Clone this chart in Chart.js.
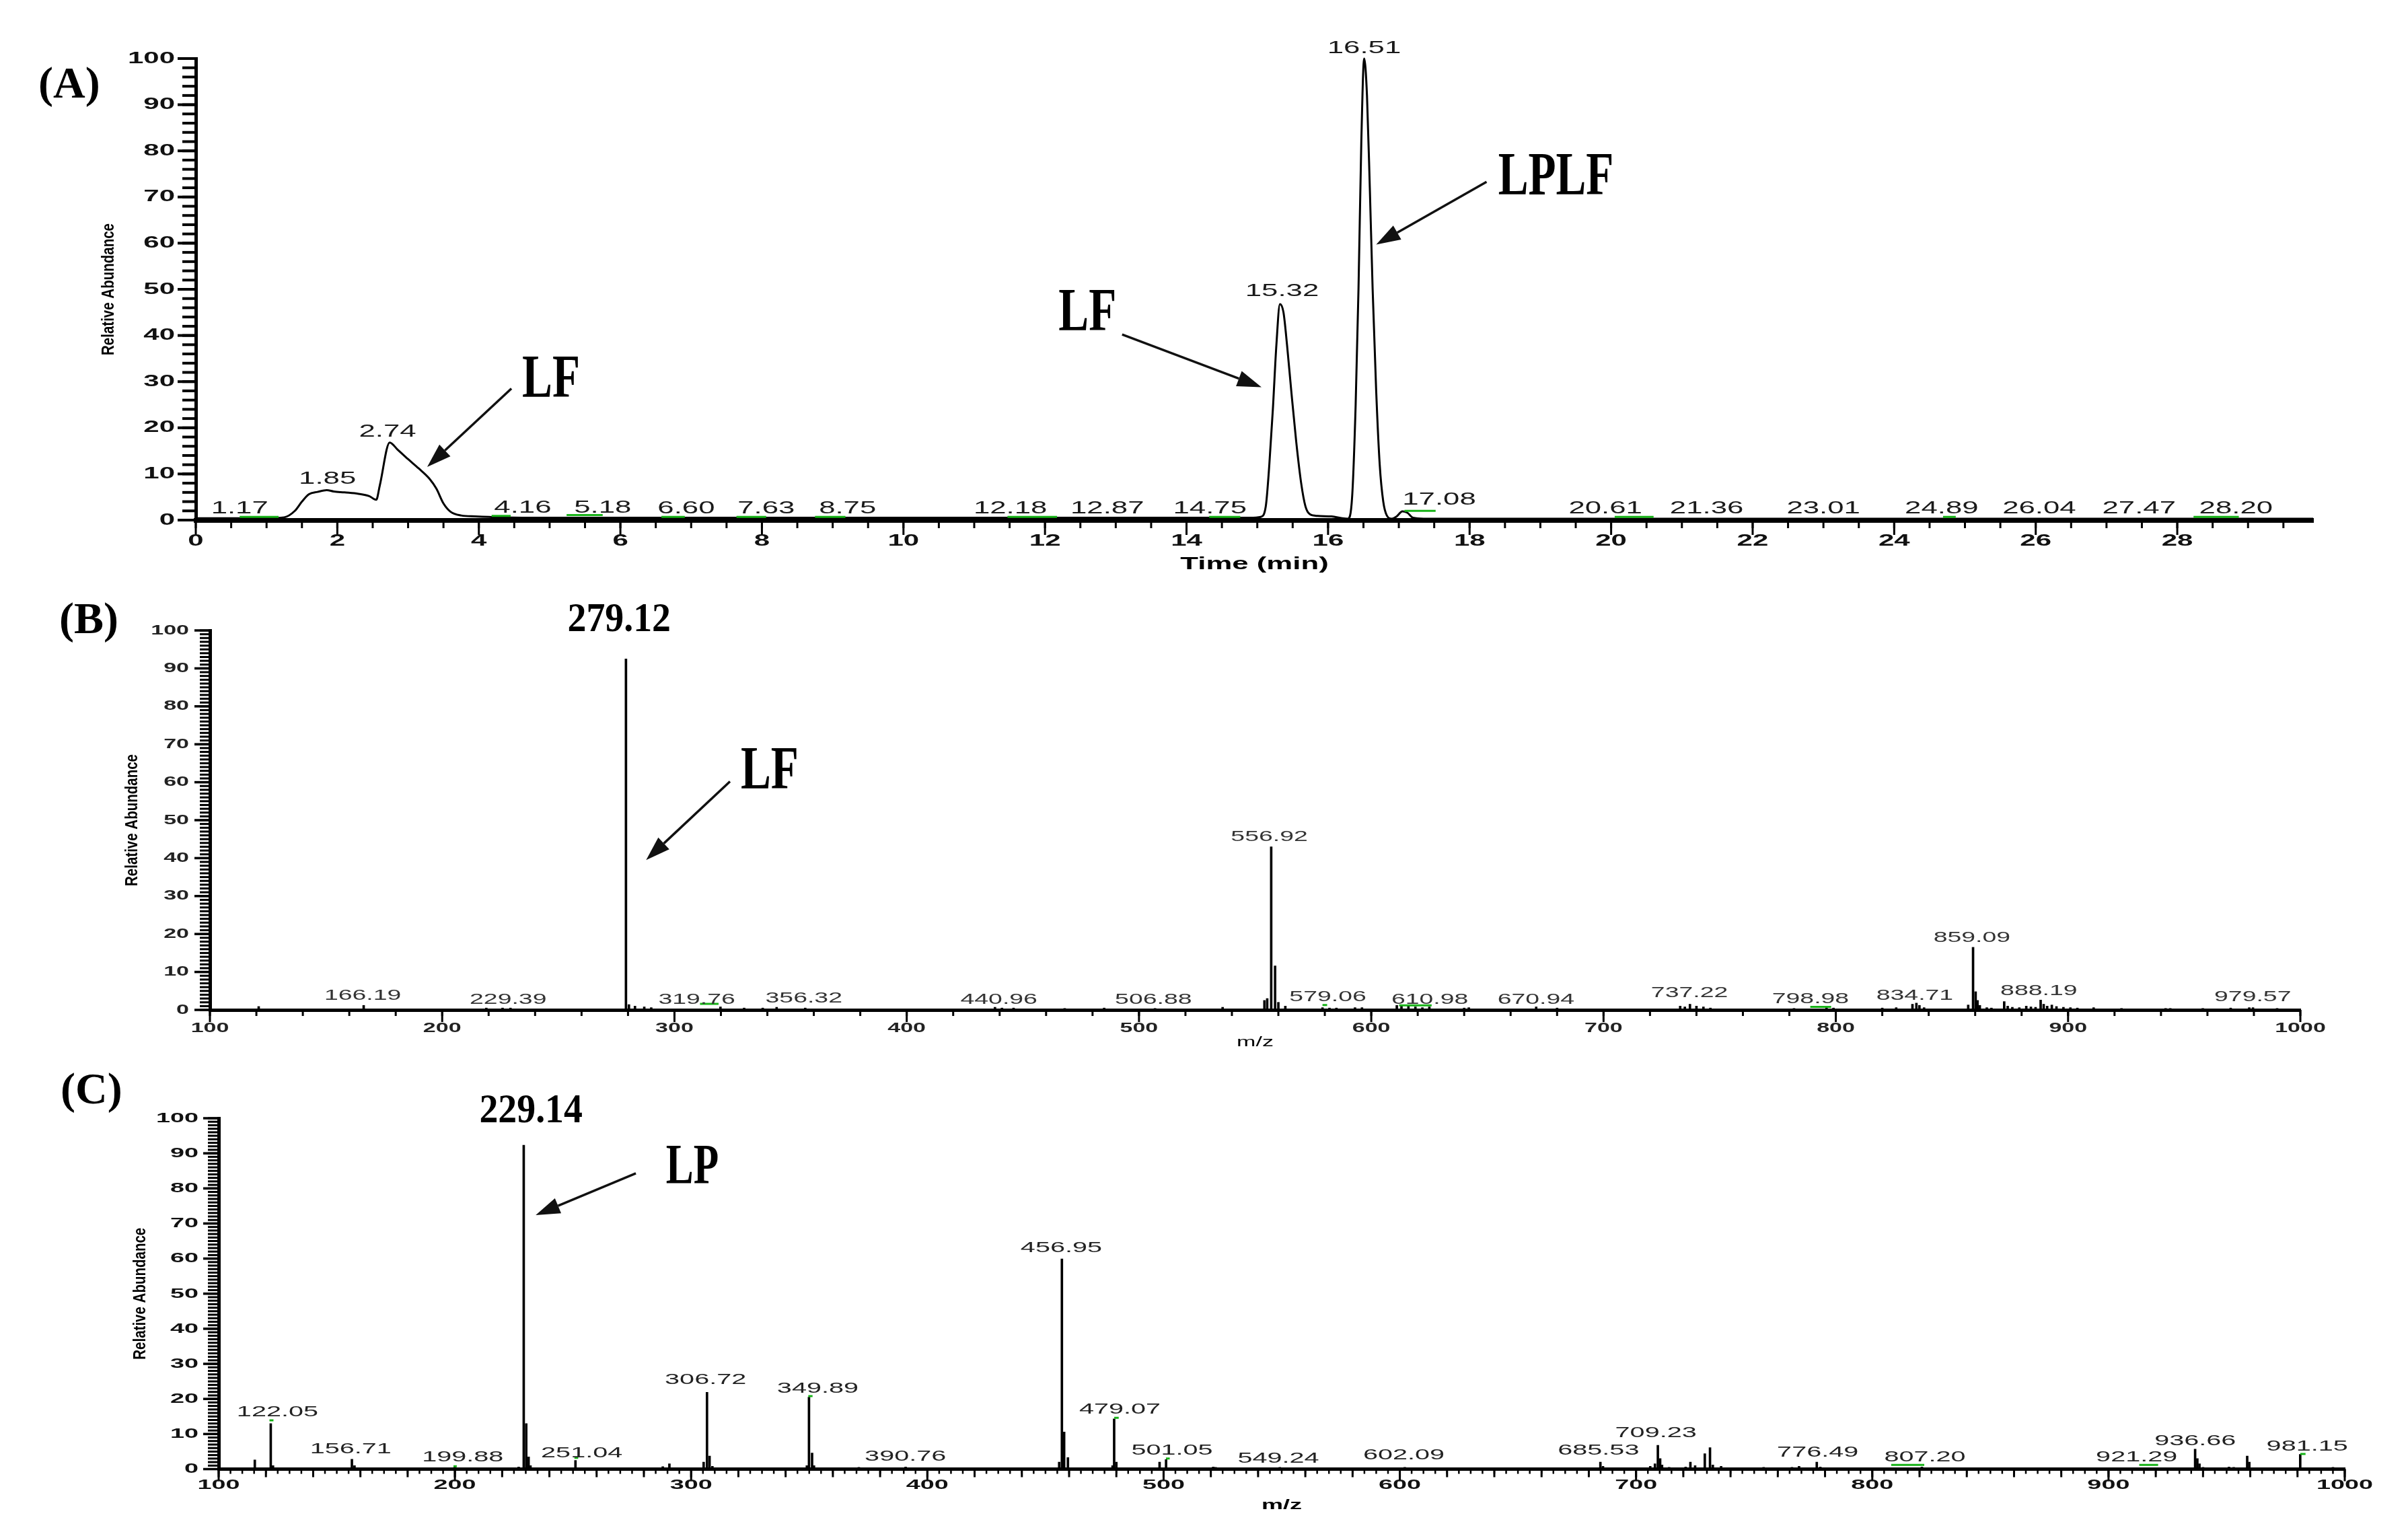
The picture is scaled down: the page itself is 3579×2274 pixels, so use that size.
<!DOCTYPE html>
<html lang="en">
<head>
<meta charset="UTF-8">
<title>LC-MS chromatogram and mass spectra</title>
<script src="https://cdn.jsdelivr.net/npm/chart.js"></script>
<style>
  html, body { margin: 0; padding: 0; background: #fff; }
  body { width: 3579px; height: 2274px; position: relative; overflow: hidden; }
  canvas { position: absolute; left: 0; }
  .tag { position: absolute; font-family: "Liberation Serif", serif; font-weight: bold; font-size: 66px; line-height: 1; color: #000; }
</style>
</head>
<body>
<div class="tag" style="left:57px; top:90px">(A)</div>
<div class="tag" style="left:88px; top:886px">(B)</div>
<div class="tag" style="left:90px; top:1585px">(C)</div>
<canvas id="chartA" width="3579" height="880" style="top:0"></canvas>
<canvas id="chartB" width="3579" height="680" style="top:880px"></canvas>
<canvas id="chartC" width="3579" height="714" style="top:1560px"></canvas>

<script>
// ---- (A) chromatogram ----
const rtTime = [0, 0.6, 1.0, 1.25, 1.4, 1.5, 1.6, 1.72, 1.85, 1.95, 2.1, 2.3, 2.45, 2.55, 2.6, 2.74, 2.85, 3.0, 3.15, 3.3,
  3.4, 3.5, 3.6, 3.75, 3.95, 4.3, 5.0, 6.0, 8.0, 10.0, 12.0, 14.0, 14.9, 15.05, 15.12, 15.17, 15.22, 15.27, 15.32, 15.37,
  15.42, 15.48, 15.55, 15.62, 15.68, 15.74, 15.85, 16.05, 16.2, 16.28, 16.34, 16.39, 16.43, 16.47, 16.51, 16.55, 16.59, 16.63, 16.68, 16.73,
  16.78, 16.83, 16.9, 16.97, 17.05, 17.12, 17.2, 17.35, 18.0, 22.0, 26.0, 29.92];
const rtAbund = [0.4, 0.4, 0.4, 0.6, 2.0, 4.0, 5.6, 6.1, 6.5, 6.2, 6.0, 5.7, 5.2, 4.4, 7.5, 16.8, 15.3, 13.2, 11.2, 9.0,
  6.8, 3.6, 1.8, 1.0, 0.8, 0.6, 0.5, 0.5, 0.5, 0.5, 0.5, 0.5, 0.5, 0.7, 3, 12, 24, 38, 46.8, 45,
  38, 28, 17, 8, 3, 1.3, 0.9, 0.8, 0.4, 0.3, 5, 25, 50, 82, 100, 92, 72, 50, 28, 12,
  4, 1, 0.3, 0.8, 1.9, 1.6, 0.5, 0.3, 0.3, 0.3, 0.3, 0.3];
const rtPeakText = ['1.17', '1.85', '2.74', '4.16', '5.18', '6.60', '7.63', '8.75', '12.18', '12.87', '14.75',
  '15.32', '16.51', '17.08', '20.61', '21.36', '23.01', '24.89', '26.04', '27.47', '28.20'];
const rtPeakTextX = [0.62, 1.86, 2.71, 4.62, 5.75, 6.93, 8.06, 9.21, 11.51, 12.88, 14.33,
  15.35, 16.51, 17.57, 19.92, 21.35, 23.0, 24.67, 26.05, 27.46, 28.83];
const rtPeakTextY = [2.4, 8.9, 19.1, 2.6, 2.6, 2.5, 2.5, 2.5, 2.5, 2.5, 2.5,
  49.6, 102.1, 4.3, 2.5, 2.5, 2.5, 2.5, 2.5, 2.5, 2.5];
const rtMarkStart = [0.62, 4.18, 5.24, 6.58, 7.64, 8.75, 11.47, 14.32, 17.08, 20.05, 24.69, 28.23];
const rtMarkEnd   = [1.17, 4.45, 5.75, 6.91, 8.06, 9.18, 12.17, 14.76, 17.52, 20.6, 24.87, 28.87];
const rtMarkLevel = [0.7, 0.9, 1.1, 0.7, 0.7, 0.7, 0.7, 0.7, 2.0, 0.7, 0.7, 0.7];

// ---- (B) MS spectrum ----
const msBmz = [121, 166.2, 219, 226, 229.4, 279.12, 280.4, 283, 287, 290,
  319.8, 330, 338, 344, 356.3, 400, 438, 441, 446, 468,
  485, 506.9, 536, 554, 555.2, 556.92, 558.6, 560, 563, 579,
  582, 585, 593, 596, 611, 613, 616, 619, 622, 625,
  640, 642, 671, 680, 733, 735, 737.2, 740, 743, 746,
  782, 796, 799, 820, 826, 833, 834.7, 836, 838, 857,
  859.09, 860.2, 861, 862, 865, 867, 872.5, 874, 876, 879,
  882, 884, 886, 888.19, 889.5, 891, 893, 895, 898, 901,
  904, 911, 923, 942, 944, 958, 970, 978, 979.6, 990];
const msBint = [0.9, 1.2, 0.5, 0.5, 0.5, 92.5, 1.4, 1.0, 0.8, 0.6,
  0.8, 0.5, 0.5, 0.7, 0.5, 0.3, 0.7, 0.5, 0.5, 0.4,
  0.5, 0.4, 0.7, 2.5, 3, 43.0, 11.6, 2, 1, 0.6,
  0.5, 0.5, 0.6, 0.6, 1.2, 1.0, 1.2, 0.8, 0.6, 0.8,
  0.5, 0.6, 0.8, 0.5, 1.0, 0.8, 1.5, 1.0, 0.8, 0.5,
  0.4, 0.5, 0.5, 0.5, 0.6, 1.5, 1.8, 1.2, 0.6, 1.3,
  16.5, 4.8, 2.5, 1.2, 0.6, 0.5, 2.2, 1.0, 0.7, 0.6,
  1.0, 0.8, 0.7, 2.6, 1.5, 1.0, 1.3, 0.9, 0.7, 0.6,
  0.5, 0.6, 0.4, 0.4, 0.4, 0.4, 0.5, 0.6, 0.6, 0.4];
const msBPeakText = ['166.19', '229.39', '319.76', '356.32', '440.96', '506.88', '556.92', '579.06', '610.98',
  '670.94', '737.22', '798.98', '834.71', '859.09', '888.19', '979.57'];
const msBPeakTextX = [165.8, 228.4, 309.6, 355.7, 439.7, 506.2, 556.1, 581.3, 625.2,
  670.9, 737, 789.1, 834, 858.6, 887.4, 979.5];
const msBPeakTextY = [3.8, 2.6, 2.6, 3.0, 2.6, 2.6, 45.5, 3.3, 2.6,
  2.6, 4.4, 2.8, 3.7, 19, 5, 3.3];
const msBMarkStart = [311, 579, 612, 789];
const msBMarkEnd   = [319, 581, 626, 798];
const msBMarkLevel = [1.6, 1.3, 1.2, 0.8];

// ---- (C) MS spectrum ----
const msCmz = [115.3, 122.05, 123, 156.4, 157.5, 199.9, 227, 229.14, 230.2, 231.2,
  232, 251.04, 288, 290.8, 305.3, 306.72, 307.8, 309, 349, 349.89,
  351.2, 352, 371, 390.8, 455.8, 456.95, 457.9, 459.5, 478.4, 479.07,
  480, 498.3, 501.05, 521, 522, 549.2, 602.1, 684.9, 686, 706,
  708, 709.23, 710.2, 711, 714, 721, 723, 725, 729.1, 731.3,
  732.5, 736, 754, 766, 769, 776.5, 778, 795, 821, 823,
  930, 936.66, 937.6, 938.5, 940, 951, 953, 958.7, 959.6, 967,
  981.15, 995];
const msCint = [2.6, 13.0, 1.0, 2.8, 1.0, 0.6, 0.6, 92.3, 13.0, 3.5,
  1.0, 2.5, 0.7, 1.5, 2.0, 21.9, 3.7, 0.8, 1.0, 20.5,
  4.6, 1.0, 0.5, 0.6, 2.0, 59.9, 10.6, 3.3, 1.0, 14.3,
  2.0, 2.0, 2.7, 0.6, 0.5, 0.5, 0.5, 2.0, 0.8, 0.8,
  1.5, 6.8, 3.0, 1.2, 0.5, 0.6, 2.0, 1.0, 4.4, 6.1,
  1.2, 0.8, 0.5, 0.5, 0.8, 2.0, 0.6, 0.4, 0.6, 0.4,
  0.4, 5.7, 3.0, 1.5, 0.5, 0.6, 0.5, 3.7, 2.0, 0.4,
  4.2, 0.5];
const msCPeakText = ['122.05', '156.71', '199.88', '251.04', '306.72', '349.89', '390.76', '456.95', '479.07', '501.05',
  '549.24', '602.09', '685.53', '709.23', '776.49', '807.20', '921.29', '936.66', '981.15'];
const msCPeakTextX = [124.9, 155.9, 203.3, 253.7, 306.1, 353.6, 390.7, 456.7, 481.5, 503.6,
  548.6, 601.7, 684.1, 708.4, 776.9, 822.3, 911.9, 936.7, 984.1];
const msCPeakTextY = [16.3, 5.7, 3.3, 4.5, 25.4, 23, 3.5, 63, 17, 5.3,
  3, 3.9, 5.3, 10.3, 4.7, 3.4, 3.4, 8, 6.4];
const msCMarkStart = [121.5, 199.4, 250.6, 349.6, 479.1, 501, 808, 913, 981.2];
const msCMarkEnd   = [123.2, 200.8, 252.2, 351.4, 481, 502.6, 822, 921, 983.4];
const msCMarkLevel = [13.9, 0.8, 3.2, 20.8, 14.6, 3.0, 1.2, 1.2, 4.3];

// callouts: label text, label centre, arrow tail, arrow tip (data units)
const calloutsA = [
  { text: 'LF',   tx: 5.02,  ty: 30.1, fx: 4.46,  fy: 28.5, ax: 3.27,  ay: 11.5 },
  { text: 'LF',   tx: 12.6,  ty: 44.6, fx: 13.09, fy: 40.2, ax: 15.06, ay: 28.8 },
  { text: 'LPLF', tx: 19.22, ty: 74,   fx: 18.24, fy: 73.3, ax: 16.68, ay: 59.7 }
];
const calloutsB = [{ text: 'LF', tx: 341, ty: 62.5, fx: 323.9, fy: 60.2, ax: 287.8, ay: 39.5 }];
const calloutsC = [{ text: 'LP', tx: 300.5, ty: 85.6, fx: 276.6, fy: 84.3, ax: 234.2, ay: 72.4 }];
const bigLabelsB = [{ text: '279.12', x: 276.2, y: 102.7 }];
const bigLabelsC = [{ text: '229.14', x: 232.2, y: 102 }];

const W = 3579;
const SANS = '"Liberation Sans", Arial, sans-serif';
const SERIF = '"Liberation Serif", "Times New Roman", serif';

function stretchText(ctx, str, x, y, font, sx, align, color, rot) {
  ctx.save();
  ctx.font = font;
  ctx.fillStyle = color || '#111';
  ctx.textAlign = align || 'center';
  ctx.textBaseline = 'middle';
  ctx.translate(x, y);
  if (rot) ctx.rotate(rot);
  ctx.scale(sx, 1);
  ctx.fillText(str, 0, 0);
  ctx.restore();
}

function stepValues(min, max, step) {
  const out = [];
  for (let n = Math.ceil(min / step - 1e-9); n * step <= max + 1e-9; n++) out.push(+(n * step).toFixed(4));
  return out;
}

function segments(starts, ends, levels) {
  const pts = [];
  starts.forEach((s, i) => {
    pts.push({ x: s, y: levels[i] }, { x: ends[i], y: levels[i] }, { x: ends[i], y: null });
  });
  return pts;
}

function arrow(ctx, x1, y1, x2, y2) {
  const ang = Math.atan2(y2 - y1, x2 - x1), hl = 36, hw = 12;
  const bx = x2 - hl * Math.cos(ang), by = y2 - hl * Math.sin(ang);
  ctx.beginPath();
  ctx.moveTo(x1, y1);
  ctx.lineTo(bx, by);
  ctx.lineWidth = 3.5;
  ctx.strokeStyle = '#111';
  ctx.stroke();
  ctx.beginPath();
  ctx.moveTo(x2, y2);
  ctx.lineTo(bx + hw * Math.sin(ang), by - hw * Math.cos(ang));
  ctx.lineTo(bx - hw * Math.sin(ang), by + hw * Math.cos(ang));
  ctx.closePath();
  ctx.fillStyle = '#111';
  ctx.fill();
}

// minor ticks, stretched labels, titles and callouts
const panelExtras = {
  id: 'panelExtras',
  afterDraw(chart, args, o) {
    const ctx = chart.ctx, xs = chart.scales.x, ys = chart.scales.y, a = chart.chartArea;
    ctx.save();
    ctx.strokeStyle = '#000';
    o.xTicks.forEach(t => {
      ctx.lineWidth = t.width;
      stepValues(xs.min, xs.max, t.step).forEach(v => {
        const px = xs.getPixelForValue(v);
        ctx.beginPath(); ctx.moveTo(px, a.bottom); ctx.lineTo(px, a.bottom + t.len); ctx.stroke();
      });
    });
    o.yTicks.forEach(t => {
      ctx.lineWidth = t.width;
      stepValues(ys.min, ys.max, t.step).forEach(v => {
        const py = ys.getPixelForValue(v);
        ctx.beginPath(); ctx.moveTo(a.left - t.len, py); ctx.lineTo(a.left, py); ctx.stroke();
      });
    });

    stepValues(xs.min, xs.max, o.xLabelStep).forEach(v =>
      stretchText(ctx, String(v), xs.getPixelForValue(v), a.bottom + o.xLabelGap, o.tickFont, o.sx, 'center', o.tickColor));
    stepValues(0, 100, 10).forEach(v =>
      stretchText(ctx, String(v), a.left - o.yLabelGap, ys.getPixelForValue(v), o.tickFont, o.sx, 'right', o.tickColor));

    stretchText(ctx, o.xTitle, (a.left + a.right) / 2, a.bottom + o.xTitleGap, o.titleFont, o.sx, 'center', '#000');
    stretchText(ctx, 'Relative Abundance', a.left - o.yTitleGap, (a.top + a.bottom) / 2,
      'bold 25px ' + SANS, 0.82, 'center', '#000', -Math.PI / 2);

    o.peakText.forEach((s, i) =>
      stretchText(ctx, s, xs.getPixelForValue(o.peakX[i]), ys.getPixelForValue(o.peakY[i]), o.peakFont, o.sx, 'center', o.peakColor));

    (o.bigLabels || []).forEach(b =>
      stretchText(ctx, b.text, xs.getPixelForValue(b.x), ys.getPixelForValue(b.y), 'bold 62px ' + SERIF, 0.9, 'center', '#000'));

    o.callouts.forEach(c => {
      stretchText(ctx, c.text, xs.getPixelForValue(c.tx), ys.getPixelForValue(c.ty), 'bold ' + o.calloutSize + 'px ' + SERIF, 0.73, 'center', '#000');
      arrow(ctx, xs.getPixelForValue(c.fx), ys.getPixelForValue(c.fy), xs.getPixelForValue(c.ax), ys.getPixelForValue(c.ay));
    });
    ctx.restore();
  }
};

function options(area, canvasH, xMin, xMax, borders, extras) {
  return {
    responsive: false,
    animation: false,
    devicePixelRatio: 1,
    layout: { padding: { left: area.left - 150, right: W - area.right, top: area.top, bottom: 0 } },
    plugins: { legend: { display: false }, tooltip: { enabled: false }, panelExtras: extras },
    scales: {
      x: {
        type: 'linear', min: xMin, max: xMax, offset: false,
        grid: { display: false },
        border: { display: true, color: '#000', width: borders[0] },
        ticks: { display: false },
        afterFit: s => { s.height = canvasH - area.bottom; }
      },
      y: {
        type: 'linear', min: 0, max: 100,
        grid: { display: false },
        border: { display: true, color: '#000', width: borders[1] },
        ticks: { display: false },
        afterFit: s => { s.width = 150; }
      }
    }
  };
}

function greenMarks(starts, ends, levels) {
  return {
    type: 'line', data: segments(starts, ends, levels), borderColor: '#17b217', borderWidth: 3,
    pointRadius: 0, spanGaps: false, order: 0, clip: false
  };
}

new Chart(document.getElementById('chartA'), {
  type: 'line',
  data: {
    datasets: [
      greenMarks(rtMarkStart, rtMarkEnd, rtMarkLevel),
      {
        data: rtTime.map((t, i) => ({ x: t, y: rtAbund[i] })),
        borderColor: '#000', borderWidth: 3, pointRadius: 0,
        cubicInterpolationMode: 'monotone', order: 1, clip: false
      }
    ]
  },
  plugins: [panelExtras],
  options: options({ left: 291, right: 3438, top: 87, bottom: 773 }, 880, 0, 29.92, [7, 5], {
    xTicks: [{ step: 0.5, len: 12, width: 3 }, { step: 2, len: 22, width: 3 }],
    yTicks: [{ step: 2, len: 20, width: 4 }, { step: 10, len: 27, width: 4 }],
    xLabelStep: 2, xLabelGap: 31, yLabelGap: 31,
    tickFont: 'bold 24px ' + SANS, tickColor: '#111', sx: 1.75,
    xTitle: 'Time (min)', xTitleGap: 66, titleFont: 'bold 25px ' + SANS, yTitleGap: 129,
    peakText: rtPeakText, peakX: rtPeakTextX, peakY: rtPeakTextY,
    peakFont: '25px ' + SANS, peakColor: '#1a1a1a',
    callouts: calloutsA, calloutSize: 92
  })
});

new Chart(document.getElementById('chartB'), {
  type: 'bar',
  data: {
    datasets: [
      greenMarks(msBMarkStart, msBMarkEnd, msBMarkLevel),
      {
        type: 'bar', data: msBmz.map((m, i) => ({ x: m, y: msBint[i] })),
        backgroundColor: '#000', barThickness: 3, order: 1
      }
    ]
  },
  plugins: [panelExtras],
  options: options({ left: 312, right: 3419, top: 57, bottom: 621 }, 680, 100, 1000, [5, 5], {
    xTicks: [{ step: 20, len: 9, width: 3 }, { step: 100, len: 18, width: 3 }],
    yTicks: [{ step: 1, len: 15, width: 3 }, { step: 10, len: 23, width: 3.5 }],
    xLabelStep: 100, xLabelGap: 27, yLabelGap: 31,
    tickFont: 'bold 20px ' + SANS, tickColor: '#222', sx: 1.7,
    xTitle: 'm/z', xTitleGap: 48, titleFont: '20px ' + SANS, yTitleGap: 115,
    peakText: msBPeakText, peakX: msBPeakTextX, peakY: msBPeakTextY,
    peakFont: '22px ' + SANS, peakColor: '#333',
    bigLabels: bigLabelsB, callouts: calloutsB, calloutSize: 92
  })
});

new Chart(document.getElementById('chartC'), {
  type: 'bar',
  data: {
    datasets: [
      greenMarks(msCMarkStart, msCMarkEnd, msCMarkLevel),
      {
        type: 'bar', data: msCmz.map((m, i) => ({ x: m, y: msCint[i] })),
        backgroundColor: '#000', barThickness: 3, order: 1
      }
    ]
  },
  plugins: [panelExtras],
  options: options({ left: 325, right: 3485, top: 102, bottom: 623.5 }, 714, 100, 1000, [5, 5], {
    xTicks: [{ step: 5, len: 7, width: 2.5 }, { step: 20, len: 12, width: 3 }, { step: 100, len: 18, width: 3 }],
    yTicks: [{ step: 1, len: 16, width: 3 }, { step: 10, len: 23, width: 3.5 }],
    xLabelStep: 100, xLabelGap: 24, yLabelGap: 30,
    tickFont: 'bold 21px ' + SANS, tickColor: '#111', sx: 1.8,
    xTitle: 'm/z', xTitleGap: 54, titleFont: 'bold 20px ' + SANS, yTitleGap: 116,
    peakText: msCPeakText, peakX: msCPeakTextX, peakY: msCPeakTextY,
    peakFont: '22px ' + SANS, peakColor: '#222',
    bigLabels: bigLabelsC, callouts: calloutsC, calloutSize: 84
  })
});
</script>
</body>
</html>
